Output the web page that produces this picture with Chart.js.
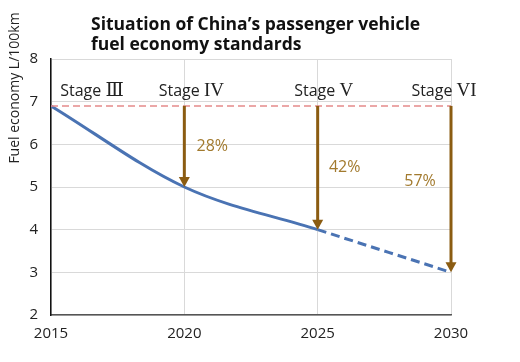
<!DOCTYPE html>
<html>
<head>
<meta charset="utf-8">
<script src="https://cdn.jsdelivr.net/npm/chart.js@4/dist/chart.umd.min.js"></script>
<style>
  html, body { margin: 0; padding: 0; background: #fff; }
  #wrap { width: 520px; height: 362px; position: relative; }
</style>
</head>
<body>
<div id="wrap"><canvas id="chart"></canvas></div>
<script>
// Fuel economy targets (L/100km) by year
const years = [2015, 2020, 2025, 2030];
const fuelEconomy = [6.9, 5.0, 4.0, 3.0];
const stageLabels = ['Stage Ⅲ', 'Stage IV', 'Stage V', 'Stage VI'];
const reductionLabels = ['28%', '42%', '57%'];
const yTicks = [2, 3, 4, 5, 6, 7, 8];
const xTicks = [2015, 2020, 2025, 2030];
const titleLines = ['Situation of China’s passenger vehicle', 'fuel economy standards'];

const FONT = "'Open Sans', 'Noto Sans', sans-serif";
const SERIF = "'Liberation Serif', 'DejaVu Serif', serif";
const ARROW_COLOR = '#8b5c12';

// Draws title, baseline, reduction arrows, stage and percentage labels
const annotations = {
  id: 'annotations',
  afterDatasetsDraw(chart) {
    const ctx = chart.ctx;
    const xs = chart.scales.x;
    const ys = chart.scales.y;
    const baseY = ys.getPixelForValue(fuelEconomy[0]);

    ctx.save();
    // title, left aligned
    ctx.font = 'bold 17.5px ' + FONT;
    ctx.fillStyle = '#111';
    ctx.textAlign = 'left';
    ctx.textBaseline = 'middle';
    titleLines.forEach((t, i) => ctx.fillText(t, 91, 25 + i * 20));

    // red dashed baseline
    ctx.strokeStyle = '#e58a8a';
    ctx.lineWidth = 1.5;
    ctx.setLineDash([7, 4]);
    ctx.beginPath();
    ctx.moveTo(xs.getPixelForValue(years[0]), baseY);
    ctx.lineTo(xs.getPixelForValue(years[years.length - 1]), baseY);
    ctx.stroke();
    ctx.setLineDash([]);

    // arrows
    for (let i = 1; i < years.length; i++) {
      const x = xs.getPixelForValue(years[i]);
      const yEnd = ys.getPixelForValue(fuelEconomy[i]);
      ctx.strokeStyle = ARROW_COLOR;
      ctx.fillStyle = ARROW_COLOR;
      ctx.lineWidth = 3;
      ctx.beginPath();
      ctx.moveTo(x, baseY);
      ctx.lineTo(x, yEnd - 8);
      ctx.stroke();
      ctx.beginPath();
      ctx.moveTo(x - 5.5, yEnd - 10);
      ctx.lineTo(x + 5.5, yEnd - 10);
      ctx.lineTo(x, yEnd);
      ctx.closePath();
      ctx.fill();
    }

    // stage labels: "Stage" in sans, numeral in serif
    const stageDx = [41, 7, 6, -7];
    ctx.fillStyle = '#222';
    ctx.textBaseline = 'alphabetic';
    stageLabels.forEach((t, i) => {
      const [word, num] = t.split(' ');
      const wordFont = '16px ' + FONT;
      const numFont = '19px ' + SERIF;
      ctx.font = wordFont;
      const w1 = ctx.measureText(word + ' ').width;
      ctx.font = numFont;
      const w2 = ctx.measureText(num).width;
      const left = xs.getPixelForValue(years[i]) + stageDx[i] - (w1 + w2) / 2;
      ctx.textAlign = 'left';
      ctx.font = wordFont;
      ctx.fillText(word, left, 96);
      ctx.font = numFont;
      ctx.fillText(num, left + w1, 96);
    });

    // percentage labels
    const pctDx = [28, 27, -31];
    const pctDy = [0, 0, -8];
    ctx.font = '16px ' + FONT;
    ctx.fillStyle = '#a27a2e';
    ctx.textAlign = 'center';
    ctx.textBaseline = 'middle';
    reductionLabels.forEach((t, i) => {
      const x = xs.getPixelForValue(years[i + 1]) + pctDx[i];
      const y = (baseY + ys.getPixelForValue(fuelEconomy[i + 1])) / 2 + pctDy[i];
      ctx.fillText(t, x, y);
    });

    // y axis title
    ctx.translate(15, 88);
    ctx.rotate(-Math.PI / 2);
    ctx.fillStyle = '#222';
    ctx.font = '14px ' + FONT;
    ctx.fillText('Fuel economy L/100km', 0, 0);
    ctx.restore();
  }
};

new Chart(document.getElementById('chart'), {
  type: 'line',
  data: {
    datasets: [{
      data: years.map((y, i) => ({ x: y, y: fuelEconomy[i] })),
      borderColor: '#4a73b3',
      borderWidth: 3,
      pointRadius: 0,
      cubicInterpolationMode: 'monotone',
      segment: {
        borderDash: (c) => (c.p0.parsed.x >= 2025 ? [9, 5] : undefined),
      },
    }],
  },
  options: {
    responsive: true,
    maintainAspectRatio: false,
    animation: false,
    layout: { padding: { left: 0, right: 69, top: 59, bottom: 0 } },
    plugins: {
      legend: { display: false },
      tooltip: { enabled: false },
      title: { display: false },
    },
    scales: {
      x: {
        type: 'linear',
        min: xTicks[0],
        max: xTicks[xTicks.length - 1],
        afterBuildTicks: (s) => { s.ticks = xTicks.map((v) => ({ value: v })); },
        afterFit: (s) => { s.height = 47; },
        ticks: {
          color: '#222',
          font: { family: FONT, size: 15 },
          padding: 10,
          callback: (v) => String(v),
        },
        grid: { color: '#d9d9d9', drawTicks: false },
        border: { color: '#555', width: 1.5 },
      },
      y: {
        min: yTicks[0],
        max: yTicks[yTicks.length - 1],
        afterBuildTicks: (s) => { s.ticks = yTicks.map((v) => ({ value: v })); },
        afterFit: (s) => { s.width = 51; },
        ticks: {
          color: '#222',
          font: { family: FONT, size: 15 },
          padding: 13,
        },
        grid: { color: '#d9d9d9', drawTicks: false },
        border: { color: '#111', width: 1.5 },
      },
    },
  },
  plugins: [annotations],
});
</script>
</body>
</html>
